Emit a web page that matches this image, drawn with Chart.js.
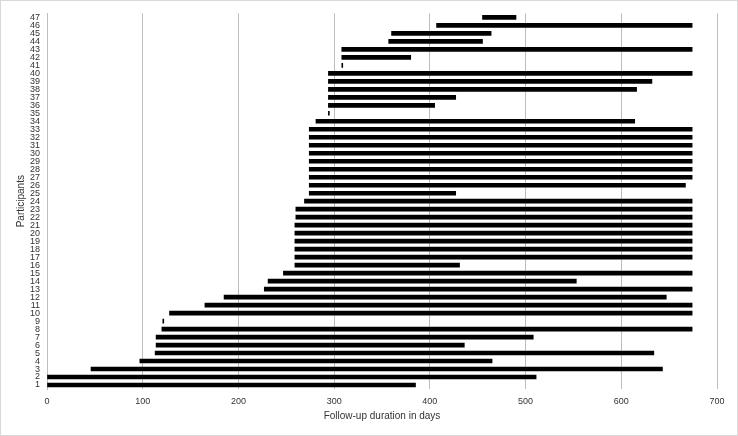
<!DOCTYPE html>
<html>
<head>
<meta charset="utf-8">
<script src="https://cdn.jsdelivr.net/npm/chart.js@4/dist/chart.umd.min.js"></script>
<style>
  body { margin: 0; background: #fff; }
  #wrap { width: 738px; height: 436px; box-sizing: border-box; border: 1px solid #d9d9d9; }
</style>
</head>
<body>
<div id="wrap"><canvas id="followup"></canvas></div>
<script>
// participants 1..47 (1 drawn at the bottom)
var participants = [];
for (var i = 1; i <= 47; i++) participants.push(String(i));

// follow-up start / end day per participant
var startDays = [0, 0, 46, 97, 113, 114, 114, 120, 121, 128,
                 165, 185, 227, 231, 247, 259, 259, 259, 259, 259,
                 259, 260, 260, 269, 274, 274, 274, 274, 274, 274,
                 274, 274, 274, 281, 294, 294, 294, 294, 294, 294,
                 308, 308, 308, 357, 360, 407, 455];
var endDays = [385, 511, 643, 465, 634, 436, 508, 674, 122, 674,
               674, 647, 674, 553, 674, 431, 674, 674, 674, 674,
               674, 674, 674, 674, 427, 667, 674, 674, 674, 674,
               674, 674, 674, 614, 295, 405, 427, 616, 632, 674,
               309, 380, 674, 455, 464, 674, 490];

var xTicks = [0, 100, 200, 300, 400, 500, 600, 700];

var ranges = startDays.map(function (s, i) { return [s, endDays[i]]; });

Chart.defaults.font.family = "'Liberation Sans', Arial, sans-serif";
Chart.defaults.color = '#333333';

var ctx = document.getElementById('followup').getContext('2d');
var followup = new Chart(ctx, {
    type: 'bar',
    data: {
        labels: participants,
        datasets: [{
            label: 'Follow-up',
            data: ranges,
            backgroundColor: '#000000',
            borderWidth: 0,
            barThickness: 4
        }]
    },
    options: {
        indexAxis: 'y',
        responsive: true,
        maintainAspectRatio: false,
        animation: false,
        layout: { padding: { left: 0, top: 11, right: 20, bottom: 0 } },
        plugins: {
            legend: { display: false },
            tooltip: { enabled: false }
        },
        scales: {
            x: {
                type: 'linear',
                min: 0,
                max: 700,
                afterBuildTicks: function (scale) {
                    scale.ticks = xTicks.map(function (v) { return { value: v }; });
                },
                afterFit: function (scale) { scale.height = 46; },
                grid: { color: '#bdbdbd', drawTicks: false },
                border: { display: false },
                ticks: { font: { size: 9 }, padding: 7, maxRotation: 0 },
                title: {
                    display: true,
                    text: 'Follow-up duration in days',
                    font: { size: 10 },
                    padding: { top: 5, bottom: 13 }
                }
            },
            y: {
                reverse: true,
                afterFit: function (scale) { scale.width = 46; },
                grid: { display: false, drawTicks: false },
                border: { display: true, color: '#bdbdbd' },
                ticks: { autoSkip: false, font: { size: 9 }, padding: 7 },
                title: {
                    display: true,
                    text: 'Participants',
                    font: { size: 10 },
                    padding: { top: 14, bottom: 0 }
                }
            }
        }
    }
});
</script>
</body>
</html>
